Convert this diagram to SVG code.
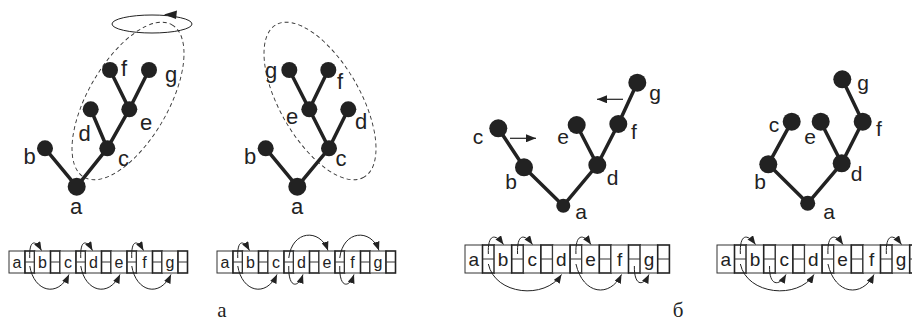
<svg xmlns="http://www.w3.org/2000/svg" width="912" height="322" viewBox="0 0 912 322">
<style>
.edge{stroke:#222;stroke-width:3.5;stroke-linecap:round;fill:none}
.nd{fill:#222}
.lbl{font-family:"Liberation Sans",Arial,sans-serif;font-size:22px;fill:#222;text-anchor:middle}
.lbl2{font-family:"Liberation Sans",Arial,sans-serif;font-size:21px;fill:#222;text-anchor:middle}
.cell{fill:#fff;stroke:#333;stroke-width:1}
.ptr{fill:#fff;stroke:#222;stroke-width:1.6}
.mid{stroke:#333;stroke-width:1}
.at{font-family:"Liberation Sans",Arial,sans-serif;font-size:16px;fill:#222;text-anchor:middle}
.at2{font-family:"Liberation Sans",Arial,sans-serif;font-size:19px;fill:#222;text-anchor:middle}
.arc{stroke:#222;stroke-width:1;fill:none;marker-end:url(#ah)}
.dash{fill:none;stroke:#333;stroke-width:0.9;stroke-dasharray:4 3}
.cap{font-family:"Liberation Serif","Times New Roman",serif;font-size:21px;fill:#222;text-anchor:middle}
</style>
<defs>
<marker id="ah" viewBox="0 0 10 8" refX="10" refY="4" markerWidth="9" markerHeight="7" orient="auto" markerUnits="userSpaceOnUse"><path d="M0,0 L10,4 L0,8 z" fill="#222"/></marker>
<marker id="ahb" viewBox="0 0 10 8" refX="10" refY="4" markerWidth="11" markerHeight="8" orient="auto" markerUnits="userSpaceOnUse"><path d="M0,0 L10,4 L0,8 z" fill="#222"/></marker>
<g id="pairA"><rect class="cell" x="0" y="0" width="16" height="22"/><rect class="ptr" x="16" y="0" width="9.5" height="22"/><line class="mid" x1="16" y1="11" x2="25.5" y2="11"/></g>
<g id="pairB"><rect class="cell" x="0" y="0" width="17.5" height="28"/><rect class="ptr" x="17.5" y="0" width="11.7" height="28"/><line class="mid" x1="17.5" y1="14" x2="29.2" y2="14"/></g>
</defs>

<g id="rotation">
<ellipse cx="152" cy="24" rx="40" ry="9" fill="none" stroke="#222" stroke-width="1"/>
<polygon points="164,14.5 177,10.5 176,19" fill="#222"/>
</g>
<ellipse class="dash" cx="128" cy="101" rx="88" ry="40" transform="rotate(-60 128 101)"/>
<ellipse class="dash" cx="320" cy="101" rx="88" ry="40" transform="rotate(60 320 101)"/>

<g id="connectors">
<line class="edge" x1="76.7" y1="186.7" x2="45" y2="148.3"/>
<line class="edge" x1="76.7" y1="186.7" x2="107.3" y2="148.3"/>
<line class="edge" x1="107.3" y1="148.3" x2="90.7" y2="109.3"/>
<line class="edge" x1="107.3" y1="148.3" x2="129.3" y2="109.3"/>
<line class="edge" x1="129.3" y1="109.3" x2="110" y2="70"/>
<line class="edge" x1="129.3" y1="109.3" x2="149" y2="70"/>
<line class="edge" x1="297.3" y1="186.7" x2="265.7" y2="148.3"/>
<line class="edge" x1="297.3" y1="186.7" x2="329" y2="148.3"/>
<line class="edge" x1="329" y1="148.3" x2="348.3" y2="109.3"/>
<line class="edge" x1="329" y1="148.3" x2="309.3" y2="109.3"/>
<line class="edge" x1="309.3" y1="109.3" x2="289.3" y2="70"/>
<line class="edge" x1="309.3" y1="109.3" x2="328.3" y2="70"/>
<line class="edge" x1="563.3" y1="205.7" x2="524" y2="167.3"/>
<line class="edge" x1="524" y1="167.3" x2="498.3" y2="128.3"/>
<line class="edge" x1="563.3" y1="205.7" x2="597.3" y2="165"/>
<line class="edge" x1="597.3" y1="165" x2="576.7" y2="125"/>
<line class="edge" x1="597.3" y1="165" x2="618.3" y2="124"/>
<line class="edge" x1="618.3" y1="124" x2="637.3" y2="82.7"/>
<line class="edge" x1="807.7" y1="203.3" x2="768.3" y2="164.3"/>
<line class="edge" x1="768.3" y1="164.3" x2="791.7" y2="121.7"/>
<line class="edge" x1="807.7" y1="203.3" x2="841.7" y2="163.3"/>
<line class="edge" x1="841.7" y1="163.3" x2="820.7" y2="121.7"/>
<line class="edge" x1="841.7" y1="163.3" x2="862.7" y2="121.7"/>
<line class="edge" x1="862.7" y1="121.7" x2="842.3" y2="79.3"/>
<line x1="510" y1="138.3" x2="536" y2="138.3" stroke="#222" stroke-width="1.2" marker-end="url(#ahb)"/>
<line x1="623" y1="99.3" x2="597" y2="99.3" stroke="#222" stroke-width="1.2" marker-end="url(#ahb)"/>
</g>

<g id="t1a"><circle class="nd" cx="76.7" cy="186.7" r="9"/><text class="lbl" x="76" y="214">a</text></g>
<g id="t1b"><circle class="nd" cx="45" cy="148.3" r="8"/><text class="lbl" x="29.5" y="164">b</text></g>
<g id="t1c"><circle class="nd" cx="107.3" cy="148.3" r="8"/><text class="lbl" x="123.5" y="166">c</text></g>
<g id="t1d"><circle class="nd" cx="90.7" cy="109.3" r="8"/><text class="lbl" x="84.5" y="141">d</text></g>
<g id="t1e"><circle class="nd" cx="129.3" cy="109.3" r="8"/><text class="lbl" x="146" y="130">e</text></g>
<g id="t1f"><circle class="nd" cx="110" cy="70" r="8"/><text class="lbl" x="124" y="76">f</text></g>
<g id="t1g"><circle class="nd" cx="149" cy="70" r="8"/><text class="lbl" x="171" y="82">g</text></g>

<g id="t2a"><circle class="nd" cx="297.3" cy="186.7" r="9"/><text class="lbl" x="297" y="214">a</text></g>
<g id="t2b"><circle class="nd" cx="265.7" cy="148.3" r="8"/><text class="lbl" x="250" y="164">b</text></g>
<g id="t2c"><circle class="nd" cx="329" cy="148.3" r="8"/><text class="lbl" x="341" y="166">c</text></g>
<g id="t2d"><circle class="nd" cx="348.3" cy="109.3" r="8"/><text class="lbl" x="361" y="129">d</text></g>
<g id="t2e"><circle class="nd" cx="309.3" cy="109.3" r="8"/><text class="lbl" x="292" y="124">e</text></g>
<g id="t2f"><circle class="nd" cx="328.3" cy="70" r="8"/><text class="lbl" x="340" y="89">f</text></g>
<g id="t2g"><circle class="nd" cx="289.3" cy="70" r="8"/><text class="lbl" x="271" y="78">g</text></g>

<g id="t3a"><circle class="nd" cx="563.3" cy="205.7" r="7"/><text class="lbl2" x="581" y="219">a</text></g>
<g id="t3b"><circle class="nd" cx="524" cy="167.3" r="9"/><text class="lbl2" x="511" y="189">b</text></g>
<g id="t3c"><circle class="nd" cx="498.3" cy="128.3" r="9"/><text class="lbl2" x="478" y="144">c</text></g>
<g id="t3d"><circle class="nd" cx="597.3" cy="165" r="9"/><text class="lbl2" x="612.5" y="185">d</text></g>
<g id="t3e"><circle class="nd" cx="576.7" cy="125" r="9"/><text class="lbl2" x="563" y="144">e</text></g>
<g id="t3f"><circle class="nd" cx="618.3" cy="124" r="9"/><text class="lbl2" x="634" y="139">f</text></g>
<g id="t3g"><circle class="nd" cx="637.3" cy="82.7" r="9"/><text class="lbl2" x="655" y="100">g</text></g>

<g id="t4a"><circle class="nd" cx="807.7" cy="203.3" r="7.5"/><text class="lbl2" x="829" y="219">a</text></g>
<g id="t4b"><circle class="nd" cx="768.3" cy="164.3" r="9"/><text class="lbl2" x="760" y="189">b</text></g>
<g id="t4c"><circle class="nd" cx="791.7" cy="121.7" r="9"/><text class="lbl2" x="774" y="132">c</text></g>
<g id="t4d"><circle class="nd" cx="841.7" cy="163.3" r="9"/><text class="lbl2" x="856.5" y="181">d</text></g>
<g id="t4e"><circle class="nd" cx="820.7" cy="121.7" r="9"/><text class="lbl2" x="810" y="144">e</text></g>
<g id="t4f"><circle class="nd" cx="862.7" cy="121.7" r="9"/><text class="lbl2" x="879" y="136">f</text></g>
<g id="t4g"><circle class="nd" cx="842.3" cy="79.3" r="9"/><text class="lbl2" x="863" y="90">g</text></g>

<g id="arr1">
<use href="#pairA" x="9" y="251"/><use href="#pairA" x="34.5" y="251"/><use href="#pairA" x="60" y="251"/><use href="#pairA" x="85.5" y="251"/><use href="#pairA" x="111" y="251"/><use href="#pairA" x="136.5" y="251"/><use href="#pairA" x="162" y="251"/>
<text class="at" x="17" y="267.5">a</text><text class="at" x="42.5" y="267.5">b</text><text class="at" x="68" y="267.5">c</text><text class="at" x="93.5" y="267.5">d</text><text class="at" x="119" y="267.5">e</text><text class="at" x="144.5" y="267.5">f</text><text class="at" x="170" y="267.5">g</text>
<path class="arc" d="M29.75,258 C29,240 35,239 41.5,250.5"/>
<path class="arc" d="M80.75,258 C80,240 86,239 92.5,250.5"/>
<path class="arc" d="M131.75,258 C131,240 137,239 143.5,250.5"/>
<path class="arc" d="M29.75,266 C34,292 58,298 69,274.5"/>
<path class="arc" d="M80.75,266 C85,292 109,298 120,274.5"/>
<path class="arc" d="M131.75,266 C136,292 160,298 171,274.5"/>
</g>

<g id="arr2">
<use href="#pairA" x="217" y="251"/><use href="#pairA" x="242.5" y="251"/><use href="#pairA" x="268" y="251"/><use href="#pairA" x="293.5" y="251"/><use href="#pairA" x="319" y="251"/><use href="#pairA" x="344.5" y="251"/><use href="#pairA" x="370" y="251"/>
<text class="at" x="225" y="267.5">a</text><text class="at" x="250.5" y="267.5">b</text><text class="at" x="276" y="267.5">c</text><text class="at" x="301.5" y="267.5">d</text><text class="at" x="327" y="267.5">e</text><text class="at" x="352.5" y="267.5">f</text><text class="at" x="378" y="267.5">g</text>
<path class="arc" d="M237.75,258 C237,240 243,239 249.5,250.5"/>
<path class="arc" d="M237.75,266 C242,292 266,298 277,274.5"/>
<path class="arc" d="M288.75,258 C292,230 320,228 328,250.5"/>
<path class="arc" d="M288.75,266 C288,288 298,289 303,274.5"/>
<path class="arc" d="M339.75,258 C343,230 371,228 379,250.5"/>
<path class="arc" d="M339.75,266 C339,288 349,289 354,274.5"/>
</g>

<g id="arr3">
<use href="#pairB" x="465" y="245"/><use href="#pairB" x="494.2" y="245"/><use href="#pairB" x="523.4" y="245"/><use href="#pairB" x="552.6" y="245"/><use href="#pairB" x="581.8" y="245"/><use href="#pairB" x="611" y="245"/><use href="#pairB" x="640.2" y="245"/>
<text class="at2" x="473.75" y="266">a</text><text class="at2" x="502.95" y="266">b</text><text class="at2" x="532.15" y="266">c</text><text class="at2" x="561.35" y="266">d</text><text class="at2" x="590.55" y="266">e</text><text class="at2" x="619.75" y="266">f</text><text class="at2" x="648.95" y="266">g</text>
<path class="arc" d="M488.35,254 C487.5,234 495,233 503.5,244.5"/>
<path class="arc" d="M517.55,254 C516.7,234 524,233 532.5,244.5"/>
<path class="arc" d="M575.95,254 C575.1,234 583,233 591,244.5"/>
<path class="arc" d="M488.35,264 C495,295 545,300 561.5,274.5"/>
<path class="arc" d="M575.95,264 C583,295 610,298 621.5,274.5"/>
<path class="arc" d="M634.35,266 C634,286 643,287 649,274.5"/>
</g>

<g id="arr4">
<use href="#pairB" x="717" y="245"/><use href="#pairB" x="746.2" y="245"/><use href="#pairB" x="775.4" y="245"/><use href="#pairB" x="804.6" y="245"/><use href="#pairB" x="833.8" y="245"/><use href="#pairB" x="863" y="245"/><use href="#pairB" x="892.2" y="245"/>
<text class="at2" x="725.75" y="266">a</text><text class="at2" x="754.95" y="266">b</text><text class="at2" x="784.15" y="266">c</text><text class="at2" x="813.35" y="266">d</text><text class="at2" x="842.55" y="266">e</text><text class="at2" x="871.75" y="266">f</text><text class="at2" x="900.95" y="266">g</text>
<path class="arc" d="M740.35,254 C739.5,234 747,233 755.5,244.5"/>
<path class="arc" d="M740.35,264 C747,295 798,300 814,274.5"/>
<path class="arc" d="M769.55,266 C769,286 779,287 786,274.5"/>
<path class="arc" d="M827.95,254 C827.1,234 835,233 843,244.5"/>
<path class="arc" d="M827.95,264 C835,295 862,298 874,274.5"/>
<path class="arc" d="M886.35,254 C885.5,234 893,233 901.5,244.5"/>
</g>

<text class="cap" x="222" y="317">а</text>
<text class="cap" x="678" y="317">б</text>
</svg>
